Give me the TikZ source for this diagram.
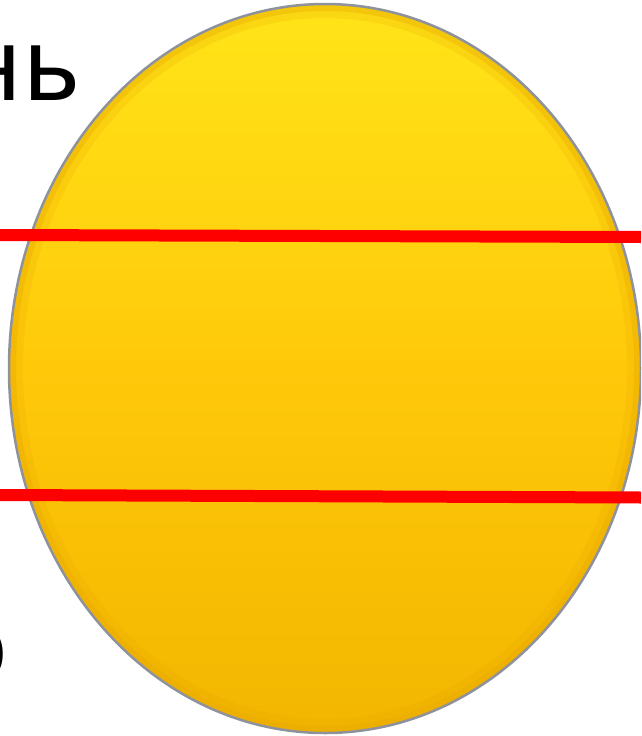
\documentclass[tikz,border=0pt]{standalone}
\usepackage{fontspec}
\setmainfont{DejaVu Sans}
\definecolor{ytop}{HTML}{FFE418}
\definecolor{ymid}{HTML}{FFC90A}
\definecolor{ybot}{HTML}{F2B600}
\definecolor{rimc}{HTML}{8E929C}
\definecolor{bevel}{HTML}{E8A800}
\definecolor{redline}{HTML}{FF0000}
\tikzset{
  bigtext/.style={inner sep=0pt, font=\fontsize{100}{110}\selectfont, text=black},
  redbar/.style={draw=redline, line width=12pt},
}
\begin{document}
\begin{tikzpicture}[x=1pt,y=-1pt]
\useasboundingbox (0,0) rectangle (641,736);
\begin{scope}
\clip (0,0) rectangle (641,736);
% text fragments
\node[bigtext, anchor=base east] (t1) at (82,100) {нь};
\node[bigtext, anchor=base east] (t2) at (9,681) {о};
% disc
\shade[top color=ytop, bottom color=ybot, middle color=ymid]
  (325,368.5) ellipse [x radius=316, y radius=364.5];
\begin{scope}
\clip (325,368.5) ellipse [x radius=316, y radius=364.5];
\draw[bevel, opacity=0.35, line width=14pt] (325,368.5) ellipse [x radius=316, y radius=364.5];
\draw[bevel, opacity=0.2, line width=28pt] (325,368.5) ellipse [x radius=316, y radius=364.5];
\end{scope}
\draw[rimc, line width=2.5pt] (325,368.5) ellipse [x radius=316, y radius=364.5];
% red lines
\coordinate (a1) at (0,235);
\coordinate (a2) at (641,237);
\coordinate (b1) at (0,495);
\coordinate (b2) at (641,497.5);
\draw[redbar] (a1) -- (a2);
\draw[redbar] (b1) -- (b2);
\end{scope}
\end{tikzpicture}
\end{document}
